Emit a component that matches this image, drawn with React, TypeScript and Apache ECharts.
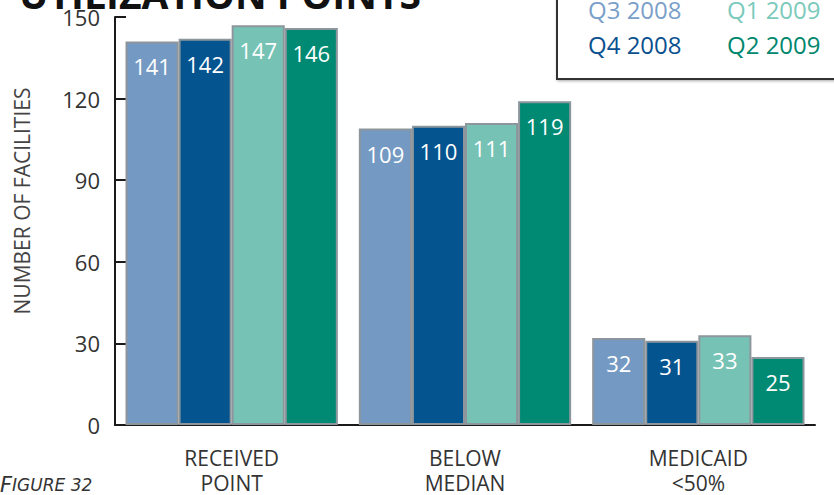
import React, { useEffect, useRef } from "react";
import * as echarts from "echarts";

const categories = ["RECEIVED\nPOINT", "BELOW\nMEDIAN", "MEDICAID\n<50%"];
const seriesNames = ["Q3 2008", "Q4 2008", "Q1 2009", "Q2 2009"];
const q3_2008 = [141, 109, 32];
const q4_2008 = [142, 110, 31];
const q1_2009 = [147, 111, 33];
const q2_2009 = [146, 119, 25];
const seriesValues = [q3_2008, q4_2008, q1_2009, q2_2009];
const colors = ["#7499c2", "#04548f", "#76c3b5", "#008a73"];
const legendColors = ["#7aa0c9", "#0b5190", "#7ccabc", "#00876e"];
const yTicks = { min: 0, max: 150, interval: 30 };

const FONT = "'Open Sans', 'Noto Sans', sans-serif";

export default function App() {
  const ref = useRef<HTMLDivElement>(null);
  useEffect(() => {
    if (!ref.current) return;
    const chart = echarts.init(ref.current, undefined, { renderer: "svg" });
    chart.setOption({
      animation: false,
      backgroundColor: "#ffffff",
      grid: { left: 115, right: 19, top: 17, bottom: 68, containLabel: false },
      xAxis: {
        type: "category",
        data: categories,
        axisLine: { lineStyle: { color: "#1a1a1a", width: 2 } },
        axisTick: { inside: true, length: 8, lineStyle: { color: "#1a1a1a", width: 2 } },
        axisLabel: {
          color: "#333",
          fontFamily: FONT,
          fontSize: 21,
          lineHeight: 25,
          margin: 20,
          interval: 0,
        },
      },
      yAxis: {
        type: "value",
        min: yTicks.min,
        max: yTicks.max,
        interval: yTicks.interval,
        splitLine: { show: false },
        axisLine: { show: true, lineStyle: { color: "#1a1a1a", width: 2 } },
        axisTick: { show: true, inside: true, length: 11, lineStyle: { color: "#1a1a1a", width: 2 } },
        axisLabel: { color: "#333", fontFamily: FONT, fontSize: 22, margin: 15 },
      },
      series: seriesValues.map((vals, i) => ({
        type: "bar",
        name: seriesNames[i],
        data: vals,
        barGap: "0%",
        barCategoryGap: "9%",
        itemStyle: { color: colors[i], borderColor: "#8d969c", borderWidth: 2 },
        label: {
          show: true,
          position: "insideTop",
          distance: 14,
          color: "#ffffff",
          fontFamily: FONT,
          fontSize: 22,
        },
      })),
      graphic: [
        {
          type: "text",
          left: 19,
          top: -26,
          style: {
            text: "UTILIZATION POINTS",
            fill: "#111",
            font: `bold 39px ${FONT}`,
          },
        },
        {
          type: "rect",
          shape: { x: 557, y: -10, width: 300, height: 89 },
          style: {
            fill: "#fff",
            stroke: "#333",
            lineWidth: 2,
            shadowColor: "rgba(0,0,0,0.35)",
            shadowBlur: 3,
            shadowOffsetX: 1,
            shadowOffsetY: 1,
          },
        },
        ...[
          { x: 588, y: 9, i: 0 },
          { x: 588, y: 44, i: 1 },
          { x: 727, y: 9, i: 2 },
          { x: 727, y: 44, i: 3 },
        ].map((p) => ({
          type: "text",
          x: p.x,
          y: p.y,
          style: {
            text: seriesNames[p.i],
            fill: legendColors[p.i],
            font: `24px ${FONT}`,
            verticalAlign: "middle",
            align: "left",
          },
        })),
        {
          type: "text",
          x: 22,
          y: 201,
          rotation: Math.PI / 2,
          style: {
            text: "NUMBER OF FACILITIES",
            fill: "#444",
            font: `21px ${FONT}`,
            align: "center",
            verticalAlign: "middle",
          },
        },
        {
          type: "text",
          x: 0,
          y: 485,
          style: {
            text: "{a|F}{b|IGURE 32}",
            verticalAlign: "middle",
            rich: {
              a: { fontFamily: "'DejaVu Sans', sans-serif", fontStyle: "italic", fontSize: 21, fill: "#333", color: "#333" },
              b: { fontFamily: "'DejaVu Sans', sans-serif", fontStyle: "italic", fontSize: 17, fill: "#333", color: "#333" },
            },
          },
        },
      ],
    });
    return () => chart.dispose();
  }, []);
  return <div ref={ref} style={{ width: 834, height: 495, position: "absolute", left: 0, top: 0 }} />;
}
